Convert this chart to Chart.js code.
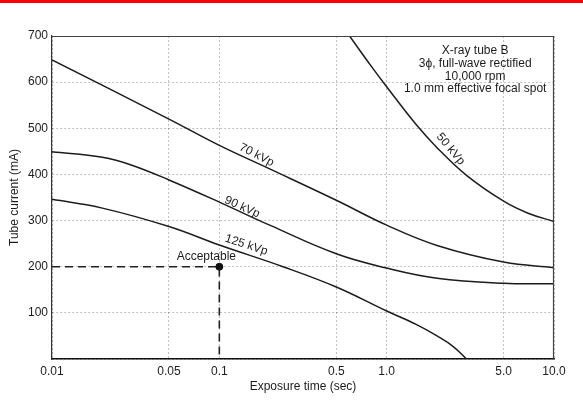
<!DOCTYPE html>
<html>
<head>
<meta charset="utf-8">
<script src="https://cdn.jsdelivr.net/npm/chart.js@4/dist/chart.umd.min.js"></script>
<style>
html,body{margin:0;padding:0;background:#fff;}
canvas{display:block;}
</style>
</head>
<body>
<canvas id="c" width="583" height="406"></canvas>
<script>
// ---- data ----
const xTicks = [0.01, 0.05, 0.1, 0.5, 1, 5, 10];
const xTickLabels = ['0.01', '0.05', '0.1', '0.5', '1.0', '5.0', '10.0'];
const yTicks = [0, 100, 200, 300, 400, 500, 600, 700];

const times50 = [0.6, 0.8, 1.0, 1.5, 2.0, 3.0, 5.0, 7.0, 10];
const mA50    = [700, 637, 590, 508, 458, 398, 342, 316, 298];

const times70 = [0.01, 0.05, 0.1, 0.2, 0.5, 1.0, 2.0, 5.0, 10];
const mA70    = [648, 520, 463, 412, 344, 290, 246, 210, 198];

const times90 = [0.01, 0.02, 0.03, 0.05, 0.1, 0.2, 0.5, 1.0, 2.0, 5.0, 10];
const mA90    = [449, 437, 420, 388, 340, 290, 228, 197, 175, 164, 163];

const times125 = [0.01, 0.02, 0.05, 0.1, 0.24, 0.5, 1.0, 1.5, 2.0, 2.5, 3.0];
const mA125    = [346, 327, 287, 247, 200, 156, 104, 75, 50, 27, 0];

const acceptTime = 0.1;
const acceptMA = 200;

const curveLabels = ['70 kVp', '90 kVp', '125 kVp', '50 kVp'];
const infoLines = ['X-ray tube B', '3\u03D5, full-wave rectified', '10,000 rpm', '1.0 mm effective focal spot'];

// ---- helpers ----
const pts = (xs, ys) => xs.map((x, i) => ({x: x, y: ys[i]}));
const FONT = "'Liberation Sans', Arial, sans-serif";
const INK = '#1c1c1c';

function curve(xs, ys) {
  return {
    data: pts(xs, ys), borderColor: INK, borderWidth: 1.5, pointRadius: 0,
    tension: 0.4, fill: false
  };
}

// label placements (data coordinates + rotation)
const labelSpecs = [
  {text: curveLabels[0], x: 0.167, y: 442, angle: 27},
  {text: curveLabels[1], x: 0.137, y: 329, angle: 24},
  {text: curveLabels[2], x: 0.145, y: 247, angle: 18},
  {text: curveLabels[3], x: 2.41,  y: 455, angle: 50},
  {text: 'Acceptable',   x: 0.0836, y: 222, angle: 0}
];
const infoX = 3.38;
const infoY = [669, 641, 612, 586];

const decor = {
  id: 'decor',
  beforeDraw(chart) {
    const ctx = chart.ctx;
    ctx.save();
    ctx.fillStyle = '#ffffff';
    ctx.fillRect(0, 0, chart.width, chart.height);
    ctx.fillStyle = '#ff0000';
    ctx.fillRect(0, 0, chart.width, 3);
    ctx.restore();
  },
  afterDraw(chart) {
    const ctx = chart.ctx, a = chart.chartArea;
    const xs = chart.scales.x, ys = chart.scales.y;
    ctx.save();
    ctx.strokeStyle = '#444';
    ctx.lineWidth = 1.2;
    ctx.beginPath();
    ctx.moveTo(a.left, a.top + 0.5);
    ctx.lineTo(a.right - 0.5, a.top + 0.5);
    ctx.lineTo(a.right - 0.5, a.bottom);
    ctx.stroke();
    ctx.fillStyle = INK;
    ctx.font = '12px ' + FONT;
    ctx.textAlign = 'center';
    ctx.textBaseline = 'middle';
    labelSpecs.forEach(l => {
      ctx.save();
      ctx.translate(xs.getPixelForValue(l.x), ys.getPixelForValue(l.y));
      ctx.rotate(l.angle * Math.PI / 180);
      ctx.fillText(l.text, 0, 0);
      ctx.restore();
    });
    infoLines.forEach((t, i) => {
      ctx.fillText(t, xs.getPixelForValue(infoX), ys.getPixelForValue(infoY[i]));
    });
    ctx.restore();
  }
};

new Chart(document.getElementById('c'), {
  type: 'line',
  data: {
    datasets: [
      curve(times50, mA50),
      curve(times70, mA70),
      curve(times90, mA90),
      curve(times125, mA125),
      {
        data: [{x: xTicks[0], y: acceptMA}, {x: acceptTime, y: acceptMA}, {x: acceptTime, y: yTicks[0]}],
        borderColor: '#222', borderWidth: 1.6, borderDash: [8, 5], pointRadius: 0, tension: 0
      },
      {
        data: [{x: acceptTime, y: acceptMA}], showLine: false,
        pointRadius: 3.5, pointBackgroundColor: '#111', pointBorderColor: '#111'
      }
    ]
  },
  options: {
    responsive: false,
    animation: false,
    layout: {padding: {left: 0, right: 29, top: 36, bottom: 0}},
    plugins: {legend: {display: false}, tooltip: {enabled: false}},
    scales: {
      x: {
        type: 'logarithmic', min: 0.01, max: 10,
        afterBuildTicks: s => { s.ticks = xTicks.map(v => ({value: v})); },
        afterFit: s => { s.height = 47; },
        ticks: {
          autoSkip: false, maxRotation: 0, padding: 5, color: INK,
          font: {family: FONT, size: 12},
          callback: (v, i) => xTickLabels[i]
        },
        grid: {color: 'rgba(0,0,0,0.25)', lineWidth: 1, drawTicks: false},
        border: {display: true, color: '#111', width: 1.6, dash: [2, 2]},
        title: {display: true, text: 'Exposure time (sec)', color: INK,
                font: {family: FONT, size: 12}, padding: {top: 0, bottom: 12}}
      },
      y: {
        type: 'linear', min: 0, max: 700,
        afterBuildTicks: s => { s.ticks = yTicks.map(v => ({value: v})); },
        afterFit: s => { s.width = 52; },
        ticks: {
          padding: 4, color: INK, font: {family: FONT, size: 12},
          callback: v => (v === 0 ? '' : String(v))
        },
        grid: {color: 'rgba(0,0,0,0.25)', lineWidth: 1, drawTicks: false},
        border: {display: true, color: '#333', width: 1.2, dash: [2, 2]},
        title: {display: true, text: 'Tube current (mA)', color: INK,
                font: {family: FONT, size: 12}, padding: {top: 7, bottom: 0}}
      }
    }
  },
  plugins: [decor]
});
</script>
</body>
</html>
